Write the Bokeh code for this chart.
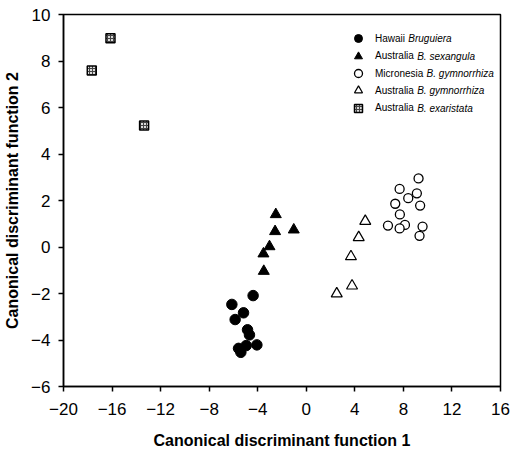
from bokeh.plotting import figure
from bokeh.models import (FixedTicker, Legend, LegendItem, Label)
from bokeh.embed import file_html
from bokeh.resources import INLINE

# ---- data ----
hawaii_x = [-4.38, -6.13, -5.17, -5.86, -4.84, -4.68, -4.07, -4.95, -5.58, -5.39]
hawaii_y = [-2.09, -2.47, -2.83, -3.12, -3.56, -3.78, -4.21, -4.24, -4.36, -4.53]

sexangula_x = [-2.51, -1.03, -2.57, -3.03, -3.53, -3.50]
sexangula_y = [1.40, 0.74, 0.67, 0.02, -0.29, -1.04]

micro_gym_x = [9.25, 7.69, 9.11, 8.40, 7.33, 9.38, 7.71, 6.73, 8.13, 7.69, 9.58, 9.33]
micro_gym_y = [2.95, 2.50, 2.31, 2.10, 1.86, 1.78, 1.40, 0.92, 0.95, 0.80, 0.88, 0.48]

aus_gym_x = [4.86, 4.32, 3.68, 3.77, 2.51]
aus_gym_y = [1.11, 0.41, -0.41, -1.67, -2.01]

exaristata_x = [-16.13, -17.67, -13.36]
exaristata_y = [8.98, 7.59, 5.23]

x_ticks = [-20, -16, -12, -8, -4, 0, 4, 8, 12, 16]
y_ticks = [-6, -4, -2, 0, 2, 4, 6, 8, 10]

legend_plain = ["Hawaii", "Australia", "Micronesia", "Australia", "Australia"]
legend_italic = ["Bruguiera", "B. sexangula", "B. gymnorrhiza", "B. gymnorrhiza", "B. exaristata"]

x_title = "Canonical discriminant function 1"
y_title = "Canonical discriminant function 2"

FONT = "Liberation Sans"

FW, FH = 437, 372
p = figure(frame_width=FW, frame_height=FH, output_backend="svg", toolbar_location=None,
           x_range=(-20, 16), y_range=(-6, 10),
           min_border_left=63, min_border_right=10, min_border_top=14, min_border_bottom=20)
p.xgrid.visible = False
p.ygrid.visible = False
p.outline_line_color = "black"
p.outline_line_width = 1.5
p.background_fill_color = "white"

for ax, ticks in ((p.xaxis[0], x_ticks), (p.yaxis[0], y_ticks)):
    ax.ticker = FixedTicker(ticks=ticks)
    ax.major_tick_in = 0
    ax.major_tick_out = 5
    ax.minor_tick_in = 0
    ax.minor_tick_out = 0
    ax.axis_line_width = 1.5
    ax.major_tick_line_width = 1.5
    ax.axis_line_color = "black"
    ax.major_tick_line_color = "black"
    ax.major_label_text_font = FONT
    ax.major_label_text_font_size = "17px"
    ax.major_label_text_color = "black"
    ax.axis_label_text_font = FONT
    ax.axis_label_text_font_size = "16px"
    ax.axis_label_text_font_style = "bold"
    ax.axis_label_text_color = "black"

p.xaxis.axis_label = x_title
p.yaxis.axis_label = y_title
p.xaxis.major_label_standoff = 11
p.xaxis.axis_label_standoff = 14
p.yaxis.major_label_standoff = 8
p.yaxis.axis_label_standoff = 7

r1 = p.scatter(hawaii_x, hawaii_y, marker="circle", size=10.5, fill_color="black", line_color="black")
r2 = p.scatter(sexangula_x, sexangula_y, marker="triangle", size=11, fill_color="black", line_color="black")
r3 = p.scatter(micro_gym_x, micro_gym_y, marker="circle", size=9, fill_color="white",
               line_color="black", line_width=1.3)
r4 = p.scatter(aus_gym_x, aus_gym_y, marker="triangle", size=11, fill_color="white",
               line_color="black", line_width=1.2)
r5 = p.scatter(exaristata_x, exaristata_y, marker="square", size=9, fill_color="#d9d9d9",
               line_color="black", line_width=1.5, hatch_pattern="+", hatch_scale=3,
               hatch_color="#444444", hatch_weight=1)

# ---- legend: one single-row legend per entry so rows can be 17 px apart ----
GW, GH, ST = 20, 20, 7
LX = 285            # left of the legend glyph box, px from frame left
ROW0, STRIDE = 24.3, 17.35   # row centres, px from frame top
W = {"H": .722, "a": .556, "w": .722, "i": .222, "A": .667, "u": .556, "s": .5, "t": .278,
     "r": .333, "l": .222, "M": .833, "c": .5, "o": .556, "n": .556, "e": .556, " ": .278}
for k, (plain, ital, r) in enumerate(zip(legend_plain, legend_italic, [r1, r2, r3, r4, r5])):
    cy = FH - (ROW0 + k * STRIDE)          # row centre, px from frame bottom
    lg = Legend(items=[LegendItem(label=plain, renderers=[r])],
                location=(LX, cy - GH / 2), padding=0, margin=0,
                glyph_width=GW, glyph_height=GH, label_height=GH, spacing=0,
                label_standoff=ST, border_line_alpha=0, background_fill_alpha=0,
                label_text_font=FONT, label_text_font_size="10px", label_text_color="black")
    p.add_layout(lg)
    wpx = sum(W[c] for c in plain + " ") * 10
    p.add_layout(Label(x=LX + GW + ST + wpx, y=cy,
                       x_units="screen", y_units="screen", text=ital,
                       text_font=FONT, text_font_size="10px", text_font_style="italic",
                       text_baseline="middle", text_align="left", text_color="black"))

open("out.html", "w").write(file_html(p, INLINE))
